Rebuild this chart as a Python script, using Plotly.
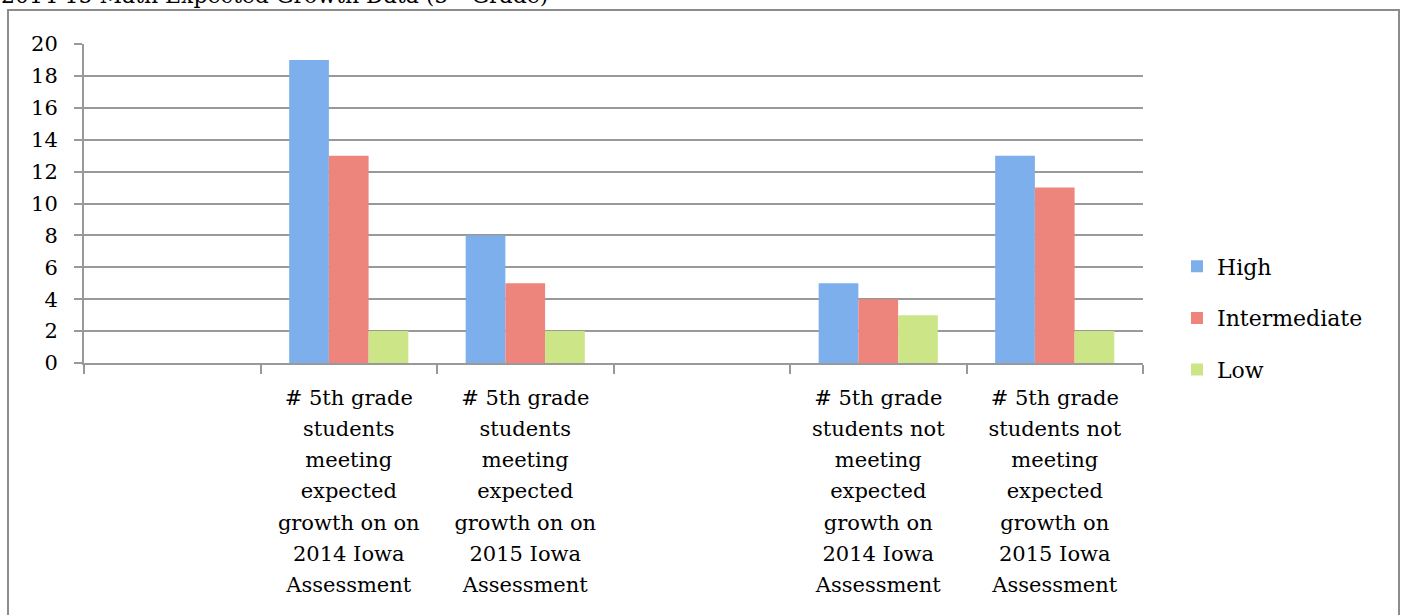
import plotly.graph_objects as go

# categories (blank slots are empty groups in the original chart)
categories = [
    " ",
    "# 5th grade<br>students<br>meeting<br>expected<br>growth on on<br>2014 Iowa<br>Assessment",
    "# 5th grade<br>students<br>meeting<br>expected<br>growth on on<br>2015 Iowa<br>Assessment",
    "  ",
    "# 5th grade<br>students not<br>meeting<br>expected<br>growth on<br>2014 Iowa<br>Assessment",
    "# 5th grade<br>students not<br>meeting<br>expected<br>growth on<br>2015 Iowa<br>Assessment",
]
high = [None, 19, 8, None, 5, 13]
intermediate = [None, 13, 5, None, 4, 11]
low = [None, 2, 2, None, 3, 2]

series_names = ["High", "Intermediate", "Low"]
series_colors = ["#7cafeb", "#ee857c", "#cbe587"]

FONT = "DejaVu Serif"


def wrap_label(txt):
    # base font is bigger than the visible text so the line spacing is wider
    lines = txt.split("<br>")
    return "<br>".join('<span style="font-size:21px">%s</span>' % l for l in lines)


tick_text = [wrap_label(c) for c in categories]

fig = go.Figure()
for name, vals, col in zip(series_names, [high, intermediate, low], series_colors):
    fig.add_trace(go.Bar(name=name, x=categories, y=vals, marker_color=col,
                         marker_line_width=0, legendgroup=name))

# body margin is removed below, so page pixels == figure pixels
# plot area: x 84..1143, y 44..363
W, H = 1405, 615
L, T = 84, 44
R, B = W - 1143, H - 363
pw, ph = W - L - R, H - T - B


def px_x(x):
    # page pixel -> paper coord
    return (x - L) / pw


def px_y(y):
    return (H - B - y) / ph


fig.update_layout(
    width=W, height=H,
    margin=dict(l=L, r=R, t=T, b=B),
    paper_bgcolor="white", plot_bgcolor="white",
    font=dict(family=FONT, size=21, color="black"),
    barmode="group", bargap=0.325, bargroupgap=0,
    showlegend=True,
    legend=dict(x=px_x(1177), xanchor="left", y=px_y(318), yanchor="middle",
                font=dict(size=22), tracegroupgap=20, bgcolor="rgba(0,0,0,0)"),
)

fig.update_xaxes(
    tickvals=categories, ticktext=tick_text,
    tickfont=dict(size=24),
    showline=True, linecolor="#999999", linewidth=2,
    ticks="outside", tickson="boundaries", ticklen=9, tickcolor="#999999", tickwidth=2,
    showgrid=False, ticklabelstandoff=11,
)
fig.update_yaxes(
    range=[0, 20], dtick=2,
    showline=True, linecolor="#999999", linewidth=2,
    ticks="outside", ticklen=8, tickcolor="#999999", tickwidth=2,
    showgrid=True, gridcolor="#999999", gridwidth=2,
    zeroline=False, ticklabelstandoff=12,
)

# outer chart border
fig.add_shape(type="rect", xref="paper", yref="paper",
              x0=px_x(8), x1=px_x(1399), y0=px_y(10), y1=px_y(660),
              line=dict(color="#8c8c8c", width=2), fillcolor="rgba(0,0,0,0)", layer="below")

# title, cut by the top edge in the original
fig.add_annotation(text="2014-15 Math Expected Growth Data (5<sup>th</sup> Grade)",
                   xref="paper", yref="paper", x=px_x(-1), y=px_y(-6),
                   xanchor="left", yanchor="middle", showarrow=False,
                   font=dict(size=22, family=FONT))

fig.write_html("out.html", config={"displayModeBar": False},
               post_script="document.body.style.margin = '0';")
